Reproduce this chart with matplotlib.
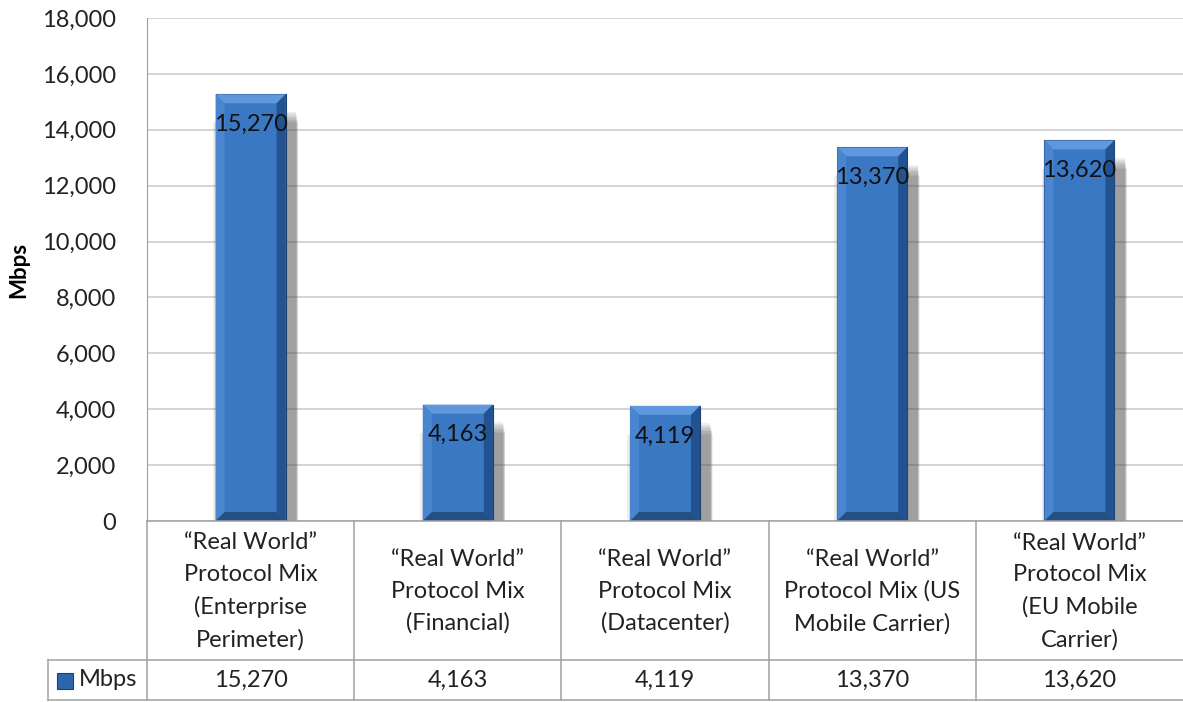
import matplotlib
matplotlib.use('Agg')
import matplotlib.pyplot as plt
from matplotlib.patches import Rectangle, Polygon
from matplotlib.ticker import FuncFormatter

plt.rcParams['font.family'] = ['Lato', 'DejaVu Sans']

categories = ["\u201cReal World\u201d\nProtocol Mix\n(Enterprise\nPerimeter)",
              "\u201cReal World\u201d\nProtocol Mix\n(Financial)",
              "\u201cReal World\u201d\nProtocol Mix\n(Datacenter)",
              "\u201cReal World\u201d\nProtocol Mix (US\nMobile Carrier)",
              "\u201cReal World\u201d\nProtocol Mix\n(EU Mobile\nCarrier)"]
mbps = [15270, 4163, 4119, 13370, 13620]
series_name = "Mbps"
yticks = list(range(0, 18001, 2000))

W, H = 1183, 702
fig = plt.figure(figsize=(W / 100, H / 100), dpi=100)

# pixel layout
left, right, top, base = 147, 1183, 18, 521
row_split, bottom = 660, 700
legend_left = 48

ax = fig.add_axes([left / W, 1 - base / H, (right - left) / W, (base - top) / H])
n = len(mbps)
ax.set_xlim(0, n)
ax.set_ylim(0, 18000)
ax.set_yticks(yticks)
ax.yaxis.set_major_formatter(FuncFormatter(lambda v, p: "{:,}".format(int(v))))
ax.tick_params(axis='y', length=0, labelsize=17, pad=22, colors='#222222')
ax.set_xticks([])
ax.grid(axis='y', color='#c8c8c8', linewidth=1.1)
ax.set_axisbelow(True)
for s in ['top', 'right', 'bottom']:
    ax.spines[s].set_visible(False)
ax.spines['left'].set_color('#a0a0a0')
ax.set_ylabel("Mbps", fontsize=16, fontweight='bold')
ax.yaxis.set_label_coords(-0.114, 0.5)

px_x = n / (right - left)          # data units per pixel in x
px_y = 18000 / (base - top)        # data units per pixel in y
bw = 70 * px_x
bev_x = 9 * px_x
bev_y = 9 * px_y

for i, v in enumerate(mbps):
    x0 = i + 0.5 - bw / 2
    x1 = x0 + bw
    # soft shadow
    for k in range(8):
        grow = (8 - k) * 1.6
        ax.add_patch(Rectangle((x0 + (10 - grow) * px_x, 0),
                               bw + 2 * grow * px_x * 0.6,
                               v - (16 + grow) * px_y,
                               facecolor='#505050', alpha=0.09, lw=0, zorder=2))
    ax.bar(i + 0.5, v, width=bw, color='#3b78c4', edgecolor='#1c3f6e',
           linewidth=0.8, zorder=3)
    # bevel facets
    ax.add_patch(Polygon([(x0, v), (x1, v), (x1 - bev_x, v - bev_y), (x0 + bev_x, v - bev_y)],
                         closed=True, facecolor='#5f98dc', lw=0, zorder=4))
    ax.add_patch(Polygon([(x0, v), (x0 + bev_x, v - bev_y), (x0 + bev_x, bev_y), (x0, 0)],
                         closed=True, facecolor='#4a86d0', lw=0, zorder=4))
    ax.add_patch(Polygon([(x1, v), (x1 - bev_x, v - bev_y), (x1 - bev_x, bev_y), (x1, 0)],
                         closed=True, facecolor='#22528f', lw=0, zorder=4))
    ax.add_patch(Polygon([(x0, 0), (x1, 0), (x1 - bev_x, bev_y), (x0 + bev_x, bev_y)],
                         closed=True, facecolor='#234f85', lw=0, zorder=4))
    ax.text(i + 0.5, v - 30 * px_y, "{:,}".format(v), ha='center', va='center',
            fontsize=17, color='#111111', zorder=5)

# data table below the plot
tab = fig.add_axes([0, 0, 1, 1])
tab.set_xlim(0, W)
tab.set_ylim(H, 0)
tab.axis('off')
lc = '#a0a0a0'
tab.plot([left, right], [base, base], color=lc, lw=1.1)
tab.plot([legend_left, right], [row_split, row_split], color=lc, lw=1.1)
tab.plot([legend_left, right], [bottom, bottom], color=lc, lw=1.1)
tab.plot([left, left], [base, bottom], color=lc, lw=1.1)
tab.plot([legend_left, legend_left], [row_split, bottom], color=lc, lw=1.1)
cw = (right - left) / n
for i in range(1, n):
    xx = left + i * cw
    tab.plot([xx, xx], [base, bottom], color=lc, lw=1.1)
for i, (c, v) in enumerate(zip(categories, mbps)):
    cx = left + (i + 0.5) * cw
    tab.text(cx, (base + row_split) / 2 + 1, c, ha='center', va='center',
             fontsize=17, linespacing=1.62, color='#222222')
    tab.text(cx, (row_split + bottom) / 2, "{:,}".format(v), ha='center', va='center',
             fontsize=17, color='#222222')
tab.add_patch(Rectangle((57, 673), 16, 16, facecolor='#2e66ad', edgecolor='#1c3f6e', lw=0.8))
tab.text(79, (row_split + bottom) / 2, series_name, ha='left', va='center',
         fontsize=17, color='#222222')

fig.savefig('out.png', dpi=100)
